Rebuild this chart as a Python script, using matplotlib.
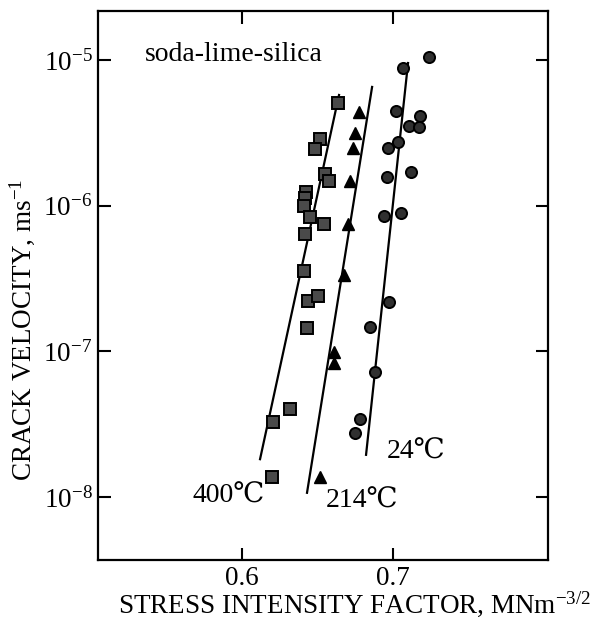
import matplotlib
matplotlib.use("Agg")
import matplotlib.pyplot as plt
from matplotlib.ticker import FixedLocator, NullLocator, FixedFormatter

plt.rcParams['font.family'] = ['Liberation Serif', 'DejaVu Serif', 'Noto Sans CJK JP', 'DejaVu Sans']
plt.rcParams['mathtext.fontset'] = 'custom'
plt.rcParams['mathtext.rm'] = 'Liberation Serif'
plt.rcParams['mathtext.it'] = 'Liberation Serif:italic'

# 400 C (squares)
k400 = [0.6636, 0.6517, 0.6483, 0.6550, 0.6576, 0.6424, 0.6417, 0.6411, 0.6450,
        0.6543, 0.6417, 0.6411, 0.6437, 0.6503, 0.6430, 0.6318, 0.6205, 0.6199]
v400 = [5.07e-6, 2.87e-6, 2.45e-6, 1.65e-6, 1.48e-6, 1.24e-6, 1.13e-6, 9.96e-7, 8.36e-7,
        7.49e-7, 6.39e-7, 3.56e-7, 2.22e-7, 2.40e-7, 1.45e-7, 4.03e-8, 3.28e-8, 1.37e-8]
# 214 C (triangles)
k214 = [0.6775, 0.6748, 0.6735, 0.6715, 0.6702, 0.6675, 0.6609, 0.6609, 0.6517]
v214 = [4.40e-6, 3.15e-6, 2.49e-6, 1.48e-6, 7.49e-7, 3.34e-7, 9.9e-8, 8.3e-8, 1.37e-8]
# 24 C (circles)
k24 = [0.7238, 0.7066, 0.7020, 0.7179, 0.7106, 0.7172, 0.7033, 0.6967, 0.6960,
       0.7119, 0.6940, 0.7053, 0.6974, 0.6848, 0.6881, 0.6781, 0.6748]
v24 = [1.05e-5, 8.8e-6, 4.47e-6, 4.13e-6, 3.53e-6, 3.47e-6, 2.74e-6, 2.49e-6, 1.57e-6,
       1.70e-6, 8.5e-7, 8.9e-7, 2.18e-7, 1.47e-7, 7.2e-8, 3.44e-8, 2.75e-8]

# fitted lines (end points)
fit400_k = [0.6119, 0.6642]
fit400_v = [1.82e-8, 5.75e-6]
fit214_k = [0.6430, 0.6861]
fit214_v = [1.07e-8, 6.53e-6]
fit24_k = [0.6821, 0.7099]
fit24_v = [1.95e-8, 9.53e-6]

xticks = [0.6, 0.7]
xticklabels = ['0.6', '0.7']
yticks = [1e-8, 1e-7, 1e-6, 1e-5]
yticklabels = [r'$10^{-8}$', r'$10^{-7}$', r'$10^{-6}$', r'$10^{-5}$']

fig = plt.figure(figsize=(5.94, 6.19), dpi=100)
ax = fig.add_axes([0.165, 0.0953, 0.7576, 0.8869])

ax.set_yscale('log')
ax.set_xlim(0.5046, 0.8026)
ax.set_ylim(10**-8.432, 10**-4.664)

lw = 1.6
for kx, vy in [(fit400_k, fit400_v), (fit214_k, fit214_v), (fit24_k, fit24_v)]:
    ax.plot(kx, vy, color='black', lw=lw, zorder=2)

ax.plot(k400, v400, ls='none', marker='s', ms=8, mfc='#4a4a4a', mec='black', mew=1.4, zorder=3)
ax.plot(k214, v214, ls='none', marker='^', ms=8.5, mfc='black', mec='black', mew=1.0, zorder=3)
ax.plot(k24, v24, ls='none', marker='o', ms=8, mfc='#303030', mec='black', mew=1.4, zorder=3)

ax.xaxis.set_major_locator(FixedLocator(xticks))
ax.xaxis.set_major_formatter(FixedFormatter(xticklabels))
ax.yaxis.set_major_locator(FixedLocator(yticks))
ax.yaxis.set_major_formatter(FixedFormatter(yticklabels))
ax.xaxis.set_minor_locator(NullLocator())
ax.yaxis.set_minor_locator(NullLocator())
ax.tick_params(which='major', direction='in', length=9, width=1.5,
               top=True, right=True, labelsize=19.5, pad=4)

for s in ax.spines.values():
    s.set_linewidth(1.6)

ax.text(0.044, -0.0965, r'STRESS INTENSITY FACTOR, MNm$^{-3/2}$', transform=ax.transAxes,
        ha='left', va='baseline', fontsize=19.5)
ax.text(-0.169, 0.419, r'CRACK VELOCITY, ms$^{-1}$', transform=ax.transAxes,
        ha='center', va='center', rotation=90, fontsize=19.5)

ax.text(0.104, 0.909, 'soda-lime-silica', transform=ax.transAxes, ha='left', va='baseline', fontsize=20)
ax.text(0.211, 0.104, '400℃', transform=ax.transAxes, ha='left', va='baseline', fontsize=20)
ax.text(0.507, 0.0947, '214℃', transform=ax.transAxes, ha='left', va='baseline', fontsize=20)
ax.text(0.642, 0.184, '24℃', transform=ax.transAxes, ha='left', va='baseline', fontsize=20)

fig.savefig('out.png', dpi=100)
